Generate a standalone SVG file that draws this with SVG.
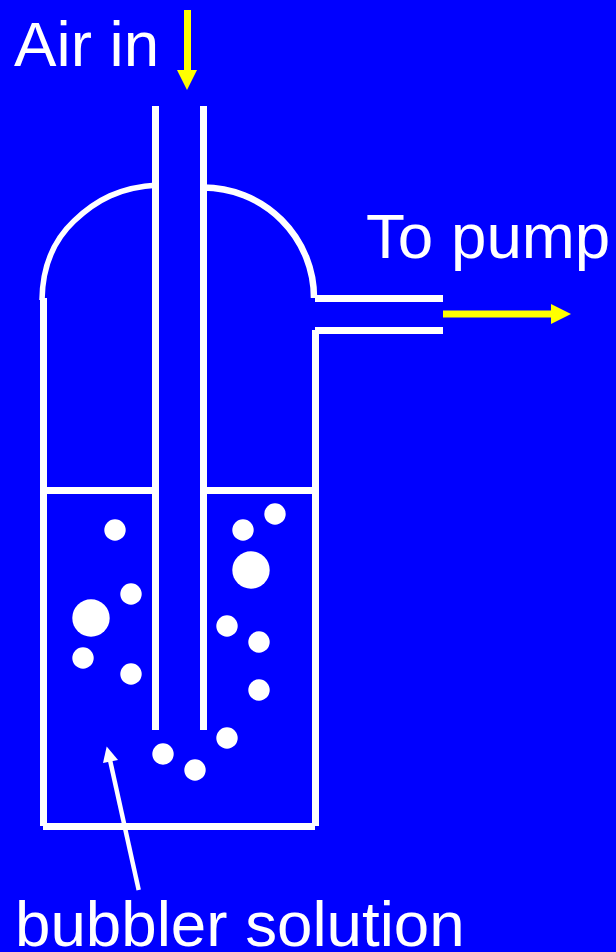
<svg xmlns="http://www.w3.org/2000/svg" width="616" height="952" viewBox="0 0 616 952">
<style>
.w{stroke:#fff;stroke-width:7;fill:none}
.a{stroke:#fff;fill:none}
.b{fill:#fff}
.y{fill:#ff0}
.t{font-family:"Liberation Sans",Arial,sans-serif;font-size:63.7px;fill:#fff}
</style>
<rect width="616" height="952" fill="#0000ff"/>
<g id="vessel">
<path class="w" d="M43.5 298V826M43 826.5H315M315.5 826V330M155.5 106V730M203.5 106V730M47 490.5H152M207 490.5H312M315 298.5H443M315 330.5H443"/>
<path class="a" stroke-width="5.500" d="M42 300C42.500 262 56 238 74 221C96 200 120 187 158 185"/>
<path class="a" stroke-width="6.500" d="M203 187.500A111 110.500 0 0 1 314 298"/>
</g>
<g id="bubbles">
<circle class="b" cx="115" cy="530" r="10.7"/><circle class="b" cx="131" cy="594" r="10.7"/><circle class="b" cx="91" cy="618" r="18.7"/><circle class="b" cx="83" cy="658" r="10.7"/><circle class="b" cx="131" cy="674" r="10.7"/>
<circle class="b" cx="243" cy="530" r="10.7"/><circle class="b" cx="275" cy="514" r="10.7"/><circle class="b" cx="251" cy="570" r="18.7"/><circle class="b" cx="227" cy="626" r="10.7"/><circle class="b" cx="259" cy="642" r="10.7"/><circle class="b" cx="259" cy="690" r="10.7"/>
<circle class="b" cx="227" cy="738" r="10.7"/><circle class="b" cx="195" cy="770" r="10.7"/><circle class="b" cx="163" cy="754" r="10.7"/>
</g>
<g id="connectors">
<path d="M187.500 10V71" stroke="#ff0" stroke-width="7"/><path class="y" d="M177 70H197L187 90Z"/>
<path d="M443 314H552" stroke="#ff0" stroke-width="7"/><path class="y" d="M551 304L571 314L551 324Z"/>
<path d="M138.700 890L110 760" stroke="#fff" stroke-width="4.500"/><path class="b" d="M106.700 746.500L118 760L103 763Z"/>
</g>
<g id="labels">
<text class="t" x="14" y="66">Air in</text>
<text class="t" x="366" y="258">To pump</text>
<text class="t" x="15" y="946">bubbler solution</text>
</g>
</svg>
